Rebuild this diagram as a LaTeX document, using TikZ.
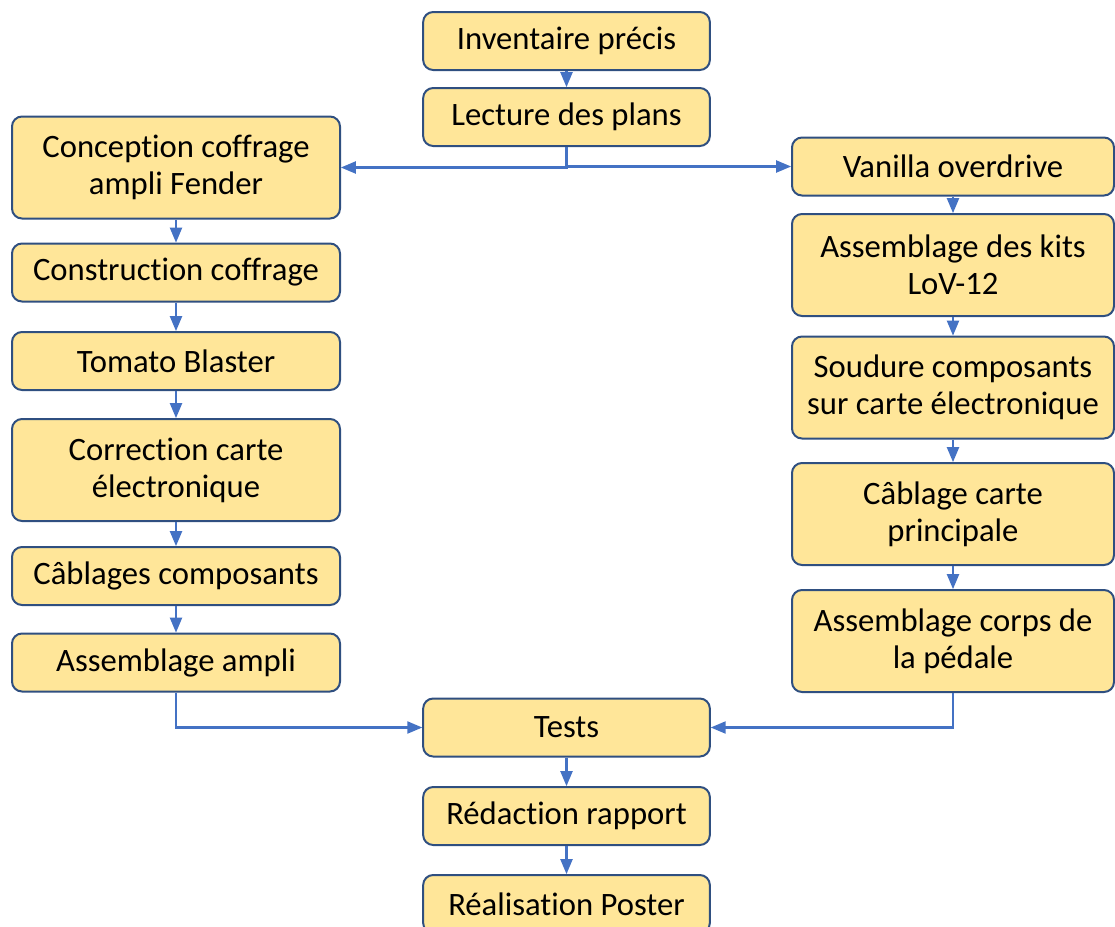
\documentclass[tikz,border=0pt]{standalone}
\usepackage{fontspec}
\setmainfont{Carlito}[Ligatures=NoCommon]
\usetikzlibrary{arrows}
\definecolor{boxfill}{HTML}{FFE699}
\definecolor{boxline}{HTML}{2F4F80}
\definecolor{linkblue}{HTML}{4472C4}
\tikzstyle{task} = [rectangle, rounded corners=7.5pt, minimum width=246pt, minimum height=43.5pt, inner sep=0pt, text centered, align=center, font=\fontsize{24.5}{27.8}\selectfont, draw=boxline, line width=1.5pt, fill=boxfill]
\tikzstyle{tasktall} = [task, minimum height=76.5pt]
\tikzstyle{taskmid} = [task, minimum width=215pt]
\tikzstyle{taskright} = [task, minimum width=241.5pt]
\tikzstyle{taskrighttall} = [taskright, minimum height=76.5pt]
\tikzstyle{arrow} = [line width=1.6pt, ->, >=triangle 45, draw=linkblue]

\begin{document}
\begin{tikzpicture}[x=0.75pt, y=-0.75pt]
    \useasboundingbox (0,0) rectangle (1115,926);
    \clip (0,0) rectangle (1115,926);

    % middle column
    \node [taskmid] at (566.5,41) (inventaire) {Inventaire précis};
    \node [taskmid] at (566.5,117) (lecture) {Lecture des plans};
    \node [taskmid] at (566.5,727.5) (tests) {Tests};
    \node [taskmid] at (566.5,816) (redaction) {Rédaction rapport};
    \node [taskmid] at (566.5,904) (poster) {Réalisation Poster};

    % ampli (left)
    \node [tasktall] at (176,167.5) (conception) {Conception coffrage\\ampli Fender};
    \node [task] at (176,272.5) (construction) {Construction coffrage};
    \node [task] at (176,361) (tomato) {Tomato Blaster};
    \node [tasktall] at (176,470) (correction) {Correction carte\\électronique};
    \node [task] at (176,576) (cablages) {Câblages composants};
    \node [task] at (176,662.5) (ampli) {Assemblage ampli};

    % pedale (right)
    \node [taskright] at (953,166.5) (vanilla) {Vanilla overdrive};
    \node [taskrighttall] at (953,265) (kits) {Assemblage des kits\\LoV-12};
    \node [taskrighttall] at (953,387.5) (soudure) {Soudure composants\\sur carte électronique};
    \node [taskrighttall] at (953,514) (cablage) {Câblage carte\\principale};
    \node [taskrighttall] at (953,641) (corps) {Assemblage corps de\\la pédale};

    \draw [arrow] (inventaire) -- (lecture);
    \draw [arrow] (lecture) |- (conception);
    \draw [arrow] (lecture) |- (vanilla);

    \draw [arrow] (conception) -- (construction);
    \draw [arrow] (construction) -- (tomato);
    \draw [arrow] (tomato) -- (correction);
    \draw [arrow] (correction) -- (cablages);
    \draw [arrow] (cablages) -- (ampli);

    \draw [arrow] (vanilla) -- (kits);
    \draw [arrow] (kits) -- (soudure);
    \draw [arrow] (soudure) -- (cablage);
    \draw [arrow] (cablage) -- (corps);

    \draw [arrow] (ampli) |- (tests);
    \draw [arrow] (corps) |- (tests);
    \draw [arrow] (tests) -- (redaction);
    \draw [arrow] (redaction) -- (poster);
\end{tikzpicture}
\end{document}
